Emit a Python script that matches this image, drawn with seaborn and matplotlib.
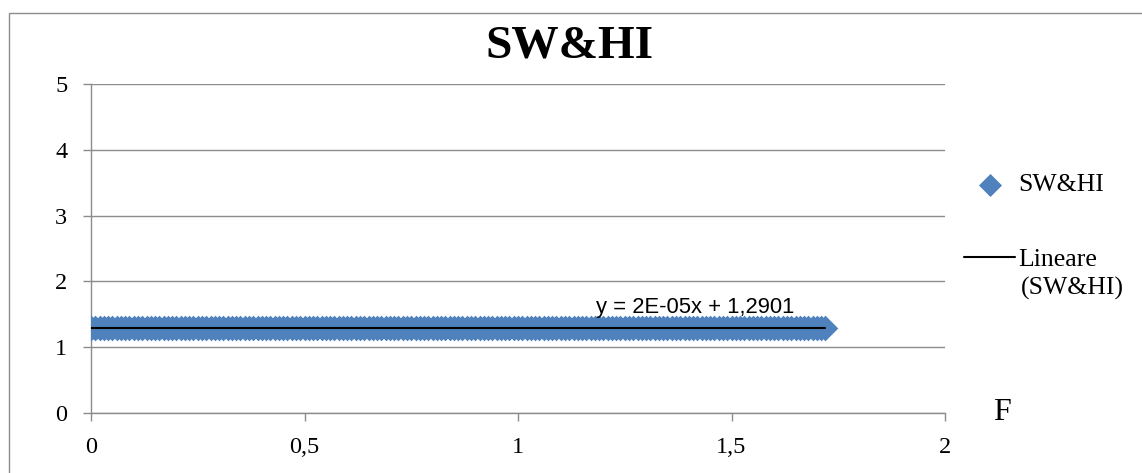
import matplotlib
matplotlib.use("Agg")
import matplotlib.pyplot as plt
import matplotlib.patches as mpatches
import seaborn as sns
import pandas as pd

sw_hi_x = [
    0.00, 0.01, 0.02, 0.03, 0.04, 0.05, 0.06, 0.07, 0.08, 0.09, 0.10, 0.11,
    0.12, 0.13, 0.14, 0.15, 0.16, 0.17, 0.18, 0.19, 0.20, 0.21, 0.22, 0.23,
    0.24, 0.25, 0.26, 0.27, 0.28, 0.29, 0.30, 0.31, 0.32, 0.33, 0.34, 0.35,
    0.36, 0.37, 0.38, 0.39, 0.40, 0.41, 0.42, 0.43, 0.44, 0.45, 0.46, 0.47,
    0.48, 0.49, 0.50, 0.51, 0.52, 0.53, 0.54, 0.55, 0.56, 0.57, 0.58, 0.59,
    0.60, 0.61, 0.62, 0.63, 0.64, 0.65, 0.66, 0.67, 0.68, 0.69, 0.70, 0.71,
    0.72, 0.73, 0.74, 0.75, 0.76, 0.77, 0.78, 0.79, 0.80, 0.81, 0.82, 0.83,
    0.84, 0.85, 0.86, 0.87, 0.88, 0.89, 0.90, 0.91, 0.92, 0.93, 0.94, 0.95,
    0.96, 0.97, 0.98, 0.99, 1.00, 1.01, 1.02, 1.03, 1.04, 1.05, 1.06, 1.07,
    1.08, 1.09, 1.10, 1.11, 1.12, 1.13, 1.14, 1.15, 1.16, 1.17, 1.18, 1.19,
    1.20, 1.21, 1.22, 1.23, 1.24, 1.25, 1.26, 1.27, 1.28, 1.29, 1.30, 1.31,
    1.32, 1.33, 1.34, 1.35, 1.36, 1.37, 1.38, 1.39, 1.40, 1.41, 1.42, 1.43,
    1.44, 1.45, 1.46, 1.47, 1.48, 1.49, 1.50, 1.51, 1.52, 1.53, 1.54, 1.55,
    1.56, 1.57, 1.58, 1.59, 1.60, 1.61, 1.62, 1.63, 1.64, 1.65, 1.66, 1.67,
    1.68, 1.69, 1.70, 1.71, 1.72,
]
sw_hi_y = [
    1.29, 1.29, 1.29, 1.29, 1.29, 1.29, 1.29, 1.29, 1.29, 1.29, 1.29, 1.29,
    1.29, 1.29, 1.29, 1.29, 1.29, 1.29, 1.29, 1.29, 1.29, 1.29, 1.29, 1.29,
    1.29, 1.29, 1.29, 1.29, 1.29, 1.29, 1.29, 1.29, 1.29, 1.29, 1.29, 1.29,
    1.29, 1.29, 1.29, 1.29, 1.29, 1.29, 1.29, 1.29, 1.29, 1.29, 1.29, 1.29,
    1.29, 1.29, 1.29, 1.29, 1.29, 1.29, 1.29, 1.29, 1.29, 1.29, 1.29, 1.29,
    1.29, 1.29, 1.29, 1.29, 1.29, 1.29, 1.29, 1.29, 1.29, 1.29, 1.29, 1.29,
    1.29, 1.29, 1.29, 1.29, 1.29, 1.29, 1.29, 1.29, 1.29, 1.29, 1.29, 1.29,
    1.29, 1.29, 1.29, 1.29, 1.29, 1.29, 1.29, 1.29, 1.29, 1.29, 1.29, 1.29,
    1.29, 1.29, 1.29, 1.29, 1.29, 1.29, 1.29, 1.29, 1.29, 1.29, 1.29, 1.29,
    1.29, 1.29, 1.29, 1.29, 1.29, 1.29, 1.29, 1.29, 1.29, 1.29, 1.29, 1.29,
    1.29, 1.29, 1.29, 1.29, 1.29, 1.29, 1.29, 1.29, 1.29, 1.29, 1.29, 1.29,
    1.29, 1.29, 1.29, 1.29, 1.29, 1.29, 1.29, 1.29, 1.29, 1.29, 1.29, 1.29,
    1.29, 1.29, 1.29, 1.29, 1.29, 1.29, 1.29, 1.29, 1.29, 1.29, 1.29, 1.29,
    1.29, 1.29, 1.29, 1.29, 1.29, 1.29, 1.29, 1.29, 1.29, 1.29, 1.29, 1.29,
    1.29, 1.29, 1.29, 1.29, 1.29,
]

x_ticks = [0, 0.5, 1, 1.5, 2]
x_tick_labels = ["0", "0,5", "1", "1,5", "2"]
y_ticks = [0, 1, 2, 3, 4, 5]
y_tick_labels = ["0", "1", "2", "3", "4", "5"]

title = "SW&HI"
series_label = "SW&HI"
trend_label = "Lineare"
trend_label_2 = "(SW&HI)"
equation = "y = 2E-05x + 1,2901"
x_label = "F"

BLUE = "#4F81BD"
GRID = "#8c8c8c"

sns.set_style("white")
plt.rcParams["font.family"] = ["Liberation Serif", "DejaVu Serif"]
plt.rcParams["text.color"] = "black"
plt.rcParams["xtick.labelcolor"] = "black"
plt.rcParams["ytick.labelcolor"] = "black"

df = pd.DataFrame({"x": sw_hi_x, "y": sw_hi_y})

fig = plt.figure(figsize=(11.42, 4.73), dpi=100)
ax = fig.add_axes([91 / 1142, 1 - 413 / 473, (945 - 91) / 1142, (413 - 84) / 473])

sns.scatterplot(data=df, x="x", y="y", marker="D", s=170, color=BLUE,
                edgecolor=BLUE, linewidth=0, ax=ax, label=series_label, zorder=3)
sns.regplot(data=df, x="x", y="y", scatter=False, ci=None, color="black",
            line_kws={"linewidth": 1.5, "zorder": 4}, ax=ax, label=trend_label)

ax.set_xlim(0, 2)
ax.set_ylim(0, 5)
ax.set_xticks(x_ticks)
ax.set_xticklabels(x_tick_labels)
ax.set_yticks(y_ticks)
ax.set_yticklabels(y_tick_labels)
ax.set_xlabel("")
ax.set_ylabel("")

ax.yaxis.grid(True, color=GRID, linewidth=1.0)
ax.set_axisbelow(True)
for side in ["top", "right"]:
    ax.spines[side].set_visible(False)
for side in ["left", "bottom"]:
    ax.spines[side].set_color(GRID)
    ax.spines[side].set_linewidth(1.0)
ax.tick_params(axis="both", which="both", length=6, width=1.0, color=GRID,
               labelsize=17.5, pad=11, left=True, bottom=True, labelcolor="black")

# equation of the trend line
ax.text(1.415, 1.6, equation, fontsize=15.8, family=["Liberation Sans"],
        color="black", ha="center", va="center", zorder=5)

# axis label "F"
fig.text(1002 / 1142, 1 - 412 / 473, x_label, fontsize=23, ha="center", va="center")

# title
fig.text(569 / 1142, 1 - 47 / 473, title, fontsize=34, fontweight="bold",
         ha="center", va="center")

leg = ax.legend(loc="center left", bbox_to_anchor=(951 / 1142, 1 - 222 / 473),
                bbox_transform=fig.transFigure, frameon=False, fontsize=18.5,
                handlelength=2.0, handletextpad=0.12, labelspacing=2.0,
                borderpad=0, markerscale=0.9)
for t in leg.get_texts():
    t.set_color("black")

# second line of the trend-line legend label
fig.text(1021 / 1142, 1 - 288 / 473, trend_label_2, fontsize=18.5,
         ha="left", va="center")

# outer chart frame (only left and top edges visible in the crop)
fig.patches.append(mpatches.Rectangle((9 / 1142, -0.2), 1.5, 0.2 + 1 - 13 / 473,
                                      transform=fig.transFigure, fill=False,
                                      edgecolor=GRID, linewidth=1.0))

fig.savefig("out.png", dpi=100)
